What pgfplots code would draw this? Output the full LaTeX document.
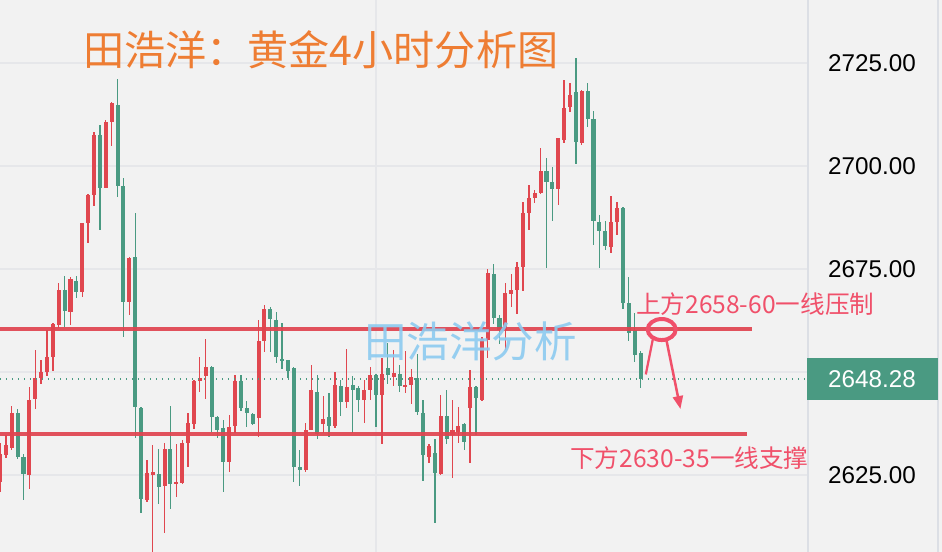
\documentclass[border=0pt]{standalone}
\usepackage{pgfplots}
\pgfplotsset{compat=1.18}
\usepackage{pgfplotstable}
\usepackage{fontspec}
\setmainfont{Liberation Sans}
\newfontfamily\cjk{Noto Sans CJK SC}
\usetikzlibrary{arrows.meta}

\definecolor{bgc}{HTML}{F2F2F2}
\definecolor{gridc}{HTML}{E6E7EA}
\definecolor{upc}{HTML}{E0474F}
\definecolor{dnc}{HTML}{4A9A82}
\definecolor{linec}{HTML}{E04450}
\definecolor{notec}{HTML}{F0506A}
\definecolor{titlec}{HTML}{EE7D33}
\definecolor{wmc}{HTML}{8CCBF0}
\definecolor{sepc}{HTML}{DCDFE5}

% 4h candles, x = bar index, o h l c
\pgfplotstableread{
x o h l c
0 2623.4 2632.8 2620.9 2630.2
1 2629.9 2634.7 2629.0 2632.3
2 2631.5 2641.7 2631.1 2640.0
5 2625.0 2646.4 2621.5 2643.2
6 2643.4 2655.3 2640.9 2648.5
7 2648.6 2652.9 2647.2 2650.1
8 2650.1 2660.2 2648.9 2653.7
9 2653.7 2661.8 2650.3 2661.6
10 2661.4 2671.5 2660.6 2669.9
12 2664.6 2673.0 2661.4 2672.5
14 2669.5 2686.2 2668.1 2686.1
15 2686.1 2693.1 2681.4 2693.0
16 2693.0 2708.3 2690.3 2707.5
18 2694.6 2711.1 2694.6 2710.7
19 2710.7 2715.6 2704.8 2715.2
22 2667.1 2677.8 2663.8 2677.6
25 2618.9 2628.6 2618.5 2625.4
26 2625.0 2632.3 2605.0 2625.6
28 2622.2 2632.8 2611.0 2631.2
30 2622.8 2632.5 2619.7 2623.1
31 2623.1 2633.5 2622.8 2632.8
32 2632.8 2640.1 2627.0 2637.5
33 2637.4 2648.1 2636.1 2647.9
34 2647.7 2653.6 2645.2 2648.5
35 2648.9 2657.9 2643.4 2651.1
39 2628.2 2639.6 2625.8 2636.7
40 2636.9 2649.3 2635.1 2647.7
44 2638.8 2662.6 2634.3 2657.4
45 2657.4 2666.3 2654.9 2665.2
52 2626.1 2637.5 2625.6 2635.8
53 2635.9 2651.7 2635.8 2645.6
55 2637.4 2644.2 2635.1 2638.5
57 2636.9 2650.1 2636.3 2646.8
59 2642.8 2655.5 2641.2 2646.4
62 2643.2 2648.1 2637.7 2645.6
63 2645.6 2651.1 2643.2 2649.3
65 2644.4 2653.3 2632.5 2649.5
67 2648.9 2655.3 2646.6 2649.7
69 2646.6 2655.2 2644.8 2646.8
70 2646.8 2650.6 2642.2 2648.7
73 2629.4 2632.5 2628.0 2632.0
75 2625.2 2644.4 2625.0 2639.2
77 2634.7 2643.2 2624.2 2635.8
78 2635.5 2641.4 2632.7 2637.0
80 2641.2 2650.5 2627.8 2646.3
82 2643.2 2658.6 2643.0 2657.9
83 2657.8 2674.9 2653.3 2674.1
86 2660.2 2671.5 2655.3 2669.1
87 2668.9 2673.9 2665.7 2669.9
88 2669.9 2676.8 2664.1 2675.6
89 2675.6 2691.3 2669.7 2688.7
90 2688.7 2695.4 2684.5 2692.2
91 2692.2 2694.2 2690.9 2693.5
92 2693.5 2704.3 2693.2 2698.9
95 2694.3 2706.9 2690.5 2706.7
96 2706.3 2720.9 2705.7 2714.0
97 2714.4 2720.1 2713.2 2717.2
99 2705.7 2718.4 2705.1 2718.3
104 2680.4 2692.7 2679.0 2686.5
105 2686.5 2691.3 2683.3 2689.7
}\upbars

\pgfplotstableread{
x o h l c
3 2640.0 2640.9 2628.8 2629.4
4 2629.3 2630.1 2618.9 2625.2
11 2669.9 2673.3 2660.8 2664.9
13 2672.2 2673.3 2667.9 2669.5
17 2707.5 2709.9 2684.4 2694.6
20 2714.8 2721.1 2692.4 2695.1
21 2695.1 2697.0 2658.4 2667.1
23 2677.8 2688.5 2633.9 2641.6
24 2641.2 2641.4 2615.7 2619.1
27 2625.2 2631.2 2618.0 2622.0
29 2631.2 2641.8 2616.8 2622.8
36 2651.1 2651.5 2635.5 2639.0
37 2639.0 2639.3 2633.9 2635.8
38 2636.3 2638.4 2620.9 2628.2
41 2647.7 2649.3 2640.6 2641.2
42 2641.2 2643.0 2636.7 2640.0
43 2639.8 2640.1 2637.1 2637.4
46 2665.2 2665.7 2654.9 2662.8
47 2662.5 2664.6 2652.1 2653.7
48 2653.2 2662.0 2650.6 2652.8
49 2652.8 2652.9 2648.5 2650.3
50 2650.9 2651.1 2623.4 2626.9
51 2626.9 2631.1 2622.3 2626.1
54 2645.2 2649.3 2633.7 2635.0
56 2639.0 2645.0 2634.1 2636.9
58 2646.6 2648.1 2639.3 2642.8
60 2646.8 2649.0 2635.3 2645.6
61 2646.0 2646.6 2640.4 2643.2
64 2649.3 2649.5 2636.7 2644.4
66 2650.9 2657.0 2647.1 2649.3
68 2649.5 2651.7 2645.2 2646.6
71 2648.5 2654.4 2639.6 2640.4
72 2640.1 2643.2 2623.6 2629.9
74 2630.4 2633.7 2613.4 2625.4
76 2639.3 2645.6 2632.5 2633.7
79 2637.4 2637.6 2631.1 2633.1
81 2646.3 2646.6 2634.7 2643.8
84 2673.8 2676.2 2661.6 2663.0
85 2663.0 2663.8 2656.8 2660.2
93 2698.9 2701.9 2675.2 2696.0
94 2696.0 2699.8 2686.7 2694.3
98 2718.0 2726.1 2700.5 2705.9
100 2718.3 2720.1 2709.4 2711.3
101 2711.3 2713.4 2680.8 2686.7
102 2686.5 2688.1 2675.2 2684.3
103 2684.3 2686.7 2679.5 2680.6
106 2689.7 2690.1 2665.2 2666.7
107 2666.7 2673.0 2657.4 2659.4
108 2660.2 2664.4 2652.3 2654.1
109 2654.5 2655.2 2646.0 2648.3
}\downbars

\pgfplotsset{
  wick/.style={color=#1, only marks, mark=none,
    mark options={draw opacity=0, fill opacity=0},
    error bars/.cd, y dir=both, y explicit, error mark=none,
    error bar style={line width=0.74pt, color=#1, draw opacity=1}},
  candlebody/.style={color=#1, only marks, mark=none,
    mark options={draw opacity=0, fill opacity=0},
    error bars/.cd, y dir=both, y explicit, error mark=none,
    error bar style={line width=2.3pt, color=#1, draw opacity=1}},
}

\begin{document}
\begin{tikzpicture}
\path[use as bounding box, fill=bgc] (0,0) rectangle (18.84,11.04);
\begin{axis}[
  at={(0,0)}, anchor=south west,
  scale only axis, width=16.16cm, height=11.04cm,
  xmin=0, xmax=137.5, ymin=2606.3, ymax=2740.3,
  axis line style={draw=none},
  major tick length=0pt,
  xtick={64}, xticklabels={},
  ytick={2625,2650,2675,2700,2725},
  yticklabels={2625.00,,2675.00,2700.00,2725.00},
  yticklabel pos=right,
  yticklabel style={anchor=center, xshift=1.28cm, font=\fontsize{13.8}{16}\selectfont},
  grid=major, grid style={gridc, line width=0.03cm},
  clip mode=individual,
]
\draw[sepc, line width=0.03cm] (rel axis cs:1,0) -- (rel axis cs:1,1);
\draw[sepc, line width=0.03cm] (rel axis cs:1.1609,0) -- (rel axis cs:1.1609,1);

% wicks and bodies
\addplot[wick=upc] table[x=x, y expr={0.5*(\thisrow{h}+\thisrow{l})}, y error expr={0.5*(\thisrow{h}-\thisrow{l})}] {\upbars};
\addplot[wick=dnc] table[x=x, y expr={0.5*(\thisrow{h}+\thisrow{l})}, y error expr={0.5*(\thisrow{h}-\thisrow{l})}] {\downbars};
\addplot[candlebody=upc] table[x=x, y expr={0.5*(\thisrow{o}+\thisrow{c})}, y error expr={max(0.5*abs(\thisrow{c}-\thisrow{o}),0.25)}] {\upbars};
\addplot[candlebody=dnc] table[x=x, y expr={0.5*(\thisrow{o}+\thisrow{c})}, y error expr={max(0.5*abs(\thisrow{c}-\thisrow{o}),0.25)}] {\downbars};

% last price
\addplot[dnc, line width=0.025cm, dash pattern=on 0.025cm off 0.095cm] coordinates {(0,2648.28) (137.5,2648.28)};
\fill[dnc] (axis cs:137.36,2643.2) rectangle (axis cs:159.66,2653.4);
\node[white, font=\fontsize{13.8}{16}\selectfont] at (axis cs:148.4,2648.28) {2648.28};

% resistance and support
\addplot[linec, opacity=0.92, line width=0.085cm] coordinates {(0,2660.4) (127.9,2660.4)};
\addplot[linec, opacity=0.92, line width=0.085cm] coordinates {(0,2635.0) (127.1,2635.0)};

% texts
\node[anchor=west, titlec, font=\cjk\fontsize{23.4}{26}\selectfont, inner sep=0] at (axis cs:14.1,2728.2) {田浩洋：黄金4小时分析图};
\node[wmc, opacity=0.9, font=\cjk\fontsize{24.2}{26}\selectfont, inner sep=0] at (axis cs:80.1,2657.5) {田浩洋分析};
\node[anchor=west, notec, font=\cjk\fontsize{14}{16}\selectfont, inner sep=0] at (axis cs:108.2,2666.4) {上方2658-60一线压制};
\node[anchor=west, notec, font=\cjk\fontsize{14}{16}\selectfont, inner sep=0] at (axis cs:97.0,2629.1) {下方2630-35一线支撑};

% hand marks
\draw[notec, line width=0.08cm] (axis cs:112.6,2660.3) ellipse [x radius=0.28cm, y radius=0.21cm];
\draw[notec, line width=0.045cm] (axis cs:111.1,2658.0) -- (axis cs:109.9,2649.4);
\draw[notec, line width=0.05cm, -{Triangle[length=0.26cm, width=0.2cm]}] (axis cs:113.4,2657.8) -- (axis cs:115.8,2641.0);
\end{axis}
\end{tikzpicture}
\end{document}
